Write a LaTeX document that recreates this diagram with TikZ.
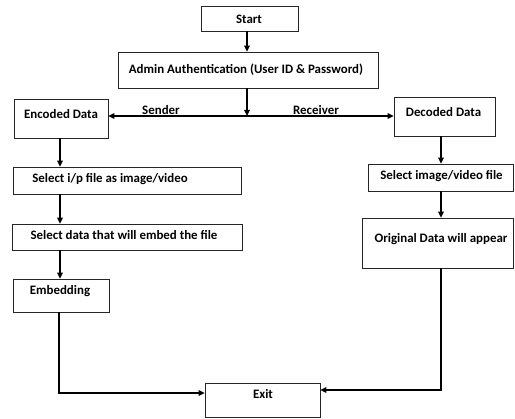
\documentclass[tikz,border=0pt]{standalone}
\usepackage{fontspec}
\setmainfont{Carlito}
\usetikzlibrary{arrows.meta}
\tikzset{
  box/.style={draw=black!85, line width=0.7pt, inner sep=0pt, rectangle},
  lbl/.style={font=\fontsize{12.9}{14}\selectfont\bfseries, inner sep=0pt, anchor=base},
  conn/.style={line width=1.3pt, -{Triangle[length=6pt,width=5.5pt]}}
}
\newcommand{\bx}[5]{\node[box, minimum width=#3-#2, minimum height=#5-#4] (#1) at ({(#2+#3)/2},{(#4+#5)/2}) {};}
\begin{document}
\begin{tikzpicture}[x=1pt,y=-1pt]
\useasboundingbox (0,0) rectangle (515,419);
% boxes
\bx{start}{201}{298}{6}{31}
\bx{admin}{118}{378}{52}{88}
\bx{enc}{14}{108}{99}{138}
\bx{dec}{394}{495}{97}{136}
\bx{selip}{13}{241}{167}{194}
\bx{seldata}{12}{242}{224}{250}
\bx{embed}{13}{109}{279}{312}
\bx{selimg}{368}{513}{164}{191}
\bx{orig}{362}{513}{218}{268}
\bx{exit}{205}{320}{383}{417}
% texts
\node[lbl] (tstart) at (249,24) {Start};
\node[lbl] (tadmin) at (246,74) {Admin Authentication (User ID \& Password)};
\node[lbl] (tenc) at (61,119) {Encoded Data};
\node[lbl] (tdec) at (443.5,117) {Decoded Data};
\node[lbl] (tselip) at (110,183) {Select i/p file as image/video};
\node[lbl] (tseldata) at (124,240) {Select data that will embed the file};
\node[lbl] (tembed) at (60,295) {Embedding};
\node[lbl] (tselimg) at (441.5,180) {Select image/video file};
\node[lbl] (torig) at (441,243) {Original Data will appear};
\node[lbl] (texit) at (263,399) {Exit};
\node[lbl] (tsender) at (161,115) {Sender};
\node[lbl] (trecv) at (316,115) {Receiver};
% connectors
\coordinate (split) at (247,116);
\draw[conn] (start.south -| split) -- (admin.north -| split);
\draw[conn] (admin.south -| split) -- (split);
\draw[conn] (split) -- (enc.east |- split);
\draw[conn] (split) -- (dec.west |- split);
\coordinate (lx) at (60,0);
\coordinate (rx) at (441,0);
\draw[conn] (enc.south -| lx) -- (selip.north -| lx);
\draw[conn] (selip.south -| lx) -- (seldata.north -| lx);
\draw[conn] (seldata.south -| lx) -- (embed.north -| lx);
\coordinate (lcorner) at (59,393);
\coordinate (rcorner) at (441,390);
\draw[conn] (embed.south -| lcorner) -- (lcorner) -- (exit.west |- lcorner);
\draw[conn] (dec.south -| rx) -- (selimg.north -| rx);
\draw[conn] (selimg.south -| rx) -- (orig.north -| rx);
\draw[conn] (orig.south -| rcorner) -- (rcorner) -- (exit.east |- rcorner);
\end{tikzpicture}
\end{document}
